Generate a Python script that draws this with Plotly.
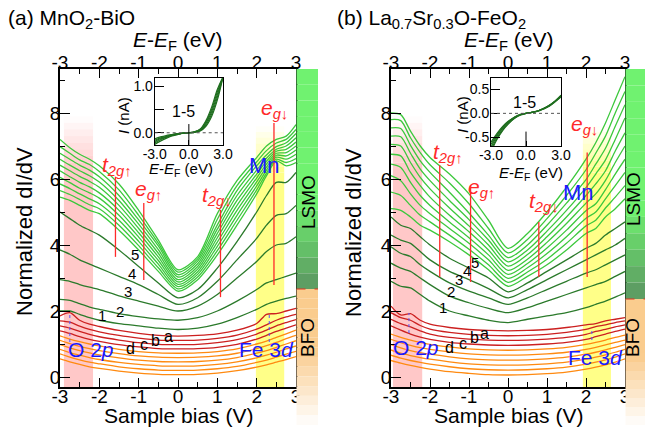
import plotly.graph_objects as go

W, H = 645, 427
FONT = "Liberation Sans, Arial, sans-serif"

# ---------------- data ----------------
BIAS = [-3, -2.75, -2.5, -2.25, -2, -1.5, -1, -0.5, 0, 0.5, 1, 1.5, 2, 2.25, 2.5, 2.75, 3]

# panel (a) MnO2-BiO
A_ORANGE = [
    [0.55, 0.46, 0.38, 0.31, 0.26, 0.18, 0.12, 0.08, 0.07, 0.08, 0.12, 0.19, 0.30, 0.37, 0.45, 0.53, 0.62],
    [0.70, 0.60, 0.52, 0.45, 0.40, 0.31, 0.25, 0.21, 0.20, 0.21, 0.25, 0.32, 0.44, 0.51, 0.60, 0.69, 0.78],
    [0.84, 0.74, 0.66, 0.59, 0.53, 0.44, 0.38, 0.34, 0.33, 0.34, 0.38, 0.46, 0.58, 0.66, 0.75, 0.85, 0.94],
    [0.98, 0.88, 0.80, 0.73, 0.67, 0.58, 0.51, 0.47, 0.46, 0.47, 0.51, 0.59, 0.72, 0.80, 0.90, 1.00, 1.10],
    [1.11, 1.01, 0.93, 0.86, 0.80, 0.71, 0.64, 0.60, 0.59, 0.60, 0.64, 0.72, 0.86, 0.95, 1.05, 1.16, 1.26],
    [1.25, 1.15, 1.07, 1.00, 0.94, 0.84, 0.77, 0.73, 0.72, 0.73, 0.77, 0.85, 1.00, 1.09, 1.20, 1.31, 1.42],
]
A_RED = [  # d, c, b, a
    [1.40, 1.32, 1.22, 1.14, 1.08, 0.98, 0.91, 0.86, 0.85, 0.86, 0.90, 0.99, 1.15, 1.26, 1.38, 1.48, 1.58],
    [1.55, 1.48, 1.38, 1.29, 1.22, 1.12, 1.04, 0.99, 0.98, 0.99, 1.04, 1.13, 1.30, 1.42, 1.55, 1.65, 1.74],
    [1.70, 1.66, 1.54, 1.44, 1.37, 1.26, 1.18, 1.12, 1.11, 1.12, 1.17, 1.27, 1.45, 1.58, 1.72, 1.82, 1.90],
    [1.85, 1.95, 1.72, 1.60, 1.53, 1.41, 1.32, 1.26, 1.24, 1.26, 1.31, 1.42, 1.62, 1.90, 1.92, 2.00, 2.08],
]
A_DARK = [  # 1..5
    [2.00, 2.00, 1.90, 1.80, 1.72, 1.62, 1.55, 1.48, 1.44, 1.48, 1.60, 1.80, 2.05, 2.20, 2.30, 2.38, 2.45],
    [2.35, 2.32, 2.22, 2.12, 2.05, 1.92, 1.83, 1.76, 1.72, 1.80, 2.00, 2.30, 2.65, 2.85, 2.95, 3.05, 3.15],
    [2.95, 2.90, 2.80, 2.72, 2.65, 2.46, 2.30, 2.15, 2.00, 2.15, 2.50, 3.00, 3.50, 3.80, 4.00, 4.05, 4.25],
    [3.85, 3.72, 3.55, 3.42, 3.30, 3.05, 2.80, 2.50, 2.20, 2.40, 2.90, 3.55, 4.20, 4.60, 4.90, 4.95, 5.20],
    [5.00, 4.80, 4.60, 4.45, 4.30, 3.85, 3.35, 2.85, 2.40, 2.65, 3.30, 4.10, 5.00, 5.50, 5.90, 5.90, 6.20],
]
A_LIGHT = [
    [5.45, 5.35, 5.20, 5.05, 4.95, 4.45, 3.85, 3.20, 2.60, 2.95, 3.70, 4.60, 5.55, 6.10, 6.55, 6.40, 6.50],
    [5.65, 5.53, 5.38, 5.22, 5.10, 4.60, 3.98, 3.31, 2.67, 3.03, 3.83, 4.75, 5.67, 6.18, 6.60, 6.50, 6.62],
    [5.85, 5.71, 5.55, 5.40, 5.25, 4.75, 4.11, 3.42, 2.74, 3.11, 3.96, 4.90, 5.79, 6.27, 6.66, 6.60, 6.75],
    [6.05, 5.89, 5.72, 5.58, 5.42, 4.90, 4.24, 3.53, 2.81, 3.19, 4.09, 5.05, 5.91, 6.36, 6.72, 6.70, 6.88],
    [6.25, 6.07, 5.90, 5.76, 5.58, 5.05, 4.37, 3.64, 2.88, 3.27, 4.22, 5.20, 6.03, 6.45, 6.78, 6.80, 7.00],
    [6.42, 6.25, 6.08, 5.93, 5.75, 5.20, 4.50, 3.75, 2.95, 3.35, 4.35, 5.35, 6.15, 6.54, 6.84, 6.90, 7.12],
    [6.60, 6.42, 6.25, 6.10, 5.91, 5.35, 4.63, 3.86, 3.03, 3.43, 4.48, 5.50, 6.27, 6.63, 6.90, 7.00, 7.25],
    [6.78, 6.60, 6.42, 6.27, 6.07, 5.50, 4.76, 3.97, 3.10, 3.51, 4.61, 5.65, 6.40, 6.73, 6.98, 7.10, 7.38],
    [6.98, 6.78, 6.58, 6.44, 6.23, 5.67, 4.90, 4.06, 3.18, 3.58, 4.78, 5.80, 6.52, 6.86, 7.09, 7.20, 7.50],
    [7.20, 6.95, 6.75, 6.60, 6.40, 5.85, 5.05, 4.15, 3.25, 3.65, 4.95, 5.95, 6.65, 7.00, 7.20, 7.30, 7.65],
]

# panel (b) La0.7Sr0.3O-FeO2
B_ORANGE = [
    [0.50, 0.42, 0.35, 0.29, 0.24, 0.16, 0.11, 0.07, 0.06, 0.07, 0.10, 0.15, 0.24, 0.30, 0.37, 0.45, 0.55],
    [0.66, 0.57, 0.50, 0.44, 0.39, 0.31, 0.25, 0.22, 0.21, 0.22, 0.25, 0.30, 0.39, 0.45, 0.52, 0.60, 0.70],
    [0.82, 0.72, 0.65, 0.59, 0.54, 0.46, 0.40, 0.37, 0.36, 0.37, 0.40, 0.45, 0.54, 0.60, 0.67, 0.75, 0.84],
    [0.98, 0.88, 0.80, 0.74, 0.69, 0.61, 0.55, 0.52, 0.51, 0.52, 0.55, 0.60, 0.69, 0.75, 0.82, 0.90, 0.98],
    [1.14, 1.04, 0.96, 0.89, 0.84, 0.76, 0.70, 0.67, 0.66, 0.67, 0.70, 0.75, 0.84, 0.90, 0.97, 1.05, 1.12],
    [1.30, 1.20, 1.12, 1.05, 0.99, 0.91, 0.85, 0.82, 0.81, 0.82, 0.85, 0.90, 0.99, 1.05, 1.12, 1.20, 1.27],
]
B_RED = [  # d, c, b, a
    [1.55, 1.42, 1.30, 1.21, 1.14, 1.05, 1.00, 0.97, 0.96, 0.97, 1.00, 1.05, 1.14, 1.22, 1.30, 1.38, 1.45],
    [1.75, 1.62, 1.52, 1.40, 1.30, 1.20, 1.15, 1.12, 1.11, 1.12, 1.15, 1.20, 1.29, 1.38, 1.44, 1.52, 1.58],
    [1.95, 1.80, 1.72, 1.56, 1.45, 1.35, 1.29, 1.26, 1.25, 1.26, 1.29, 1.35, 1.44, 1.53, 1.58, 1.65, 1.70],
    [2.15, 1.88, 1.92, 1.72, 1.60, 1.50, 1.44, 1.41, 1.40, 1.41, 1.44, 1.50, 1.58, 1.62, 1.70, 1.75, 1.80],
]
B_DARK = [  # 1..5
    [2.90, 2.75, 2.70, 2.50, 2.30, 2.00, 1.85, 1.72, 1.65, 1.75, 1.85, 1.95, 2.10, 2.20, 2.30, 2.42, 2.55],
    [3.45, 3.30, 3.20, 3.00, 2.80, 2.45, 2.25, 2.08, 1.95, 2.10, 2.30, 2.50, 2.70, 2.80, 2.90, 3.05, 3.20],
    [3.95, 3.75, 3.65, 3.40, 3.20, 2.85, 2.60, 2.40, 2.20, 2.40, 2.65, 2.90, 3.15, 3.25, 3.40, 3.55, 3.70],
    [4.30, 4.15, 4.05, 3.80, 3.55, 3.20, 2.95, 2.68, 2.40, 2.65, 2.95, 3.25, 3.55, 3.70, 3.85, 4.00, 4.20],
    [4.85, 4.60, 4.50, 4.25, 4.00, 3.60, 3.30, 3.00, 2.58, 2.85, 3.20, 3.55, 3.90, 4.05, 4.30, 4.50, 4.70],
]
B_LIGHT = [
    [5.10, 5.05, 4.85, 4.60, 4.45, 4.10, 3.70, 3.25, 2.75, 3.05, 3.40, 3.85, 4.35, 4.50, 4.85, 5.10, 5.40],
    [5.60, 5.50, 5.20, 4.90, 4.70, 4.30, 3.87, 3.40, 2.87, 3.18, 3.57, 4.05, 4.58, 4.75, 5.12, 5.45, 5.80],
    [6.10, 5.95, 5.55, 5.20, 4.95, 4.50, 4.05, 3.55, 2.99, 3.31, 3.74, 4.25, 4.81, 5.00, 5.40, 5.80, 6.20],
    [6.45, 6.35, 5.90, 5.50, 5.20, 4.70, 4.22, 3.70, 3.11, 3.44, 3.91, 4.45, 5.04, 5.25, 5.68, 6.15, 6.60],
    [6.75, 6.70, 6.20, 5.80, 5.45, 4.90, 4.40, 3.85, 3.23, 3.57, 4.08, 4.65, 5.27, 5.55, 5.96, 6.50, 7.00],
    [7.05, 7.00, 6.50, 6.05, 5.70, 5.12, 4.58, 4.00, 3.36, 3.71, 4.25, 4.85, 5.50, 5.85, 6.25, 6.85, 7.40],
    [7.30, 7.28, 6.78, 6.30, 5.95, 5.35, 4.77, 4.15, 3.49, 3.85, 4.42, 5.05, 5.74, 6.15, 6.58, 7.20, 7.85],
    [7.55, 7.53, 7.02, 6.55, 6.20, 5.60, 4.97, 4.30, 3.62, 4.00, 4.60, 5.27, 5.98, 6.45, 6.93, 7.60, 8.25],
    [7.80, 7.77, 7.25, 6.80, 6.43, 5.88, 5.25, 4.50, 3.76, 4.17, 4.80, 5.50, 6.28, 6.78, 7.30, 8.00, 8.65],
    [8.00, 7.95, 7.45, 7.00, 6.65, 6.15, 5.55, 4.75, 3.90, 4.35, 5.00, 5.75, 6.60, 7.10, 7.70, 8.40, 9.10],
]

# insets: I-V curves 1-5
IV_E = [-3, -2.5, -2, -1.5, -1, -0.5, 0, 0.5, 1, 1.5, 2, 2.5, 3]
A_IV = [
    [-0.25, -0.18, -0.12, -0.07, -0.04, -0.01, 0, 0.01, 0.04, 0.14, 0.35, 0.70, 1.20],
    [-0.22, -0.15, -0.10, -0.06, -0.03, -0.01, 0, 0.01, 0.05, 0.17, 0.40, 0.76, 1.20],
    [-0.19, -0.13, -0.09, -0.05, -0.03, -0.01, 0, 0.02, 0.06, 0.20, 0.45, 0.82, 1.20],
    [-0.16, -0.11, -0.08, -0.04, -0.02, -0.01, 0, 0.02, 0.07, 0.23, 0.50, 0.88, 1.20],
    [-0.13, -0.09, -0.06, -0.04, -0.02, -0.01, 0, 0.02, 0.08, 0.26, 0.55, 0.93, 1.20],
]
B_IV = [
    [-0.80, -0.55, -0.36, -0.22, -0.11, -0.04, 0, 0.02, 0.05, 0.10, 0.17, 0.26, 0.38],
    [-0.75, -0.52, -0.34, -0.20, -0.10, -0.03, 0, 0.02, 0.05, 0.10, 0.17, 0.26, 0.37],
    [-0.70, -0.48, -0.31, -0.18, -0.09, -0.03, 0, 0.02, 0.05, 0.10, 0.16, 0.25, 0.36],
    [-0.65, -0.45, -0.29, -0.17, -0.08, -0.03, 0, 0.02, 0.05, 0.09, 0.16, 0.25, 0.35],
    [-0.60, -0.42, -0.27, -0.16, -0.08, -0.02, 0, 0.02, 0.04, 0.09, 0.15, 0.24, 0.34],
]

# orbital marker lines: (x, y_bottom, y_top)
A_MARK = {"t2gu": (-1.59, 3.64, 6.07), "egu": (-0.87, 2.94, 5.27), "t2gd": (1.08, 2.42, 5.06), "egd": (2.44, 2.79, 7.70)}
B_MARK = {"t2gu": (-1.75, 3.03, 6.42), "egu": (-0.96, 2.88, 5.82), "t2gd": (0.79, 3.03, 4.70), "egd": (2.03, 3.03, 6.80)}
A_DOT = [(-2.75, 1.06, 1.94), (2.32, 1.06, 1.94)]
B_DOT = [(-2.54, 1.33, 1.94), (2.15, 1.12, 1.48)]

MAIN_TICKS = [-3, -2, -1, 0, 1, 2, 3]
Y_TICKS = [0, 2, 4, 6, 8]

# ---------------- styling ----------------
C_LIGHT = "#3cc83c"
C_DARK = "#2b7a2b"
C_RED = "#cc2020"
C_ORANGE = "#ff8a10"
C_MARK = "#ff2a2a"
C_BLUE = "#1a1aff"


def px(x):
    return x / W


def py(y):
    return 1 - y / H


fig = go.Figure()


def add_curves(xa, ya, groups):
    for curves, color in groups:
        for c in curves:
            fig.add_trace(go.Scatter(x=BIAS, y=c, mode="lines", xaxis=xa, yaxis=ya,
                                     line=dict(color=color, width=1.3, shape="spline", smoothing=0.8),
                                     hoverinfo="skip", showlegend=False))


add_curves("x", "y", [(A_ORANGE, C_ORANGE), (A_RED, C_RED), (A_DARK, C_DARK), (A_LIGHT, C_LIGHT)])
add_curves("x3", "y3", [(B_ORANGE, C_ORANGE), (B_RED, C_RED), (B_DARK, C_DARK), (B_LIGHT, C_LIGHT)])

# dummy traces so the top axes get drawn
for xa, ya in (("x2", "y"), ("x4", "y3")):
    fig.add_trace(go.Scatter(x=[-3, 3], y=[0, 0], xaxis=xa, yaxis=ya, mode="markers",
                             marker=dict(opacity=0), hoverinfo="skip", showlegend=False))

for iv, xa, ya in ((A_IV, "x5", "y5"), (B_IV, "x6", "y6")):
    for c in iv:
        fig.add_trace(go.Scatter(x=IV_E, y=c, mode="lines", xaxis=xa, yaxis=ya,
                                 line=dict(color="#1f6e1f", width=1.2, shape="spline"),
                                 hoverinfo="skip", showlegend=False))

# ---------------- axes ----------------
PA = (60, 296)
PB = (391, 625)
PY = (69, 387)
YR = [(377 - PY[1]) / 33.0, (377 - PY[0]) / 33.0]

axis_common = dict(range=[-3, 3], automargin=False, showgrid=False, zeroline=False, showline=True,
                   linecolor="black", linewidth=1.5, ticks="inside", ticklen=9, tickwidth=1.3, tickcolor="black",
                   tickvals=MAIN_TICKS, ticktext=[str(t) for t in MAIN_TICKS], ticklabelstandoff=-9,
                   tickfont=dict(family=FONT, size=19, color="black"),
                   minor=dict(dtick=0.5, ticks="inside", ticklen=5, tickwidth=1.2, tickcolor="black"))
yaxis_common = dict(range=YR, automargin=False, showgrid=False, zeroline=False, showline=True,
                    linecolor="black", linewidth=1.5, mirror=True, ticks="inside", ticklen=10, tickwidth=1.3,
                    tickcolor="black", tickvals=Y_TICKS, ticktext=[str(t) for t in Y_TICKS], ticklabelstandoff=-6,
                    tickfont=dict(family=FONT, size=19, color="black"),
                    minor=dict(dtick=1, ticks="inside", ticklen=5, tickwidth=1.2, tickcolor="black"))

lay = dict(
    template="none",
    width=W, height=H, margin=dict(l=0, r=0, t=0, b=0, pad=0, autoexpand=False),
    paper_bgcolor="white", plot_bgcolor="white", showlegend=False,
    xaxis=dict(domain=[px(PA[0]), px(PA[1])], anchor="y", **axis_common),
    xaxis2=dict(domain=[px(PA[0]), px(PA[1])], anchor="y", overlaying="x", side="top", **axis_common),
    yaxis=dict(domain=[py(PY[1]), py(PY[0])], anchor="x", **yaxis_common),
    xaxis3=dict(domain=[px(PB[0]), px(PB[1])], anchor="y3", **axis_common),
    xaxis4=dict(domain=[px(PB[0]), px(PB[1])], anchor="y3", overlaying="x3", side="top", **axis_common),
    yaxis3=dict(domain=[py(PY[1]), py(PY[0])], anchor="x3", **yaxis_common),
)

inset_x = dict(range=[-3, 3], automargin=False, showgrid=False, zeroline=False, showline=True, mirror=True,
               linecolor="black", linewidth=1, ticks="inside", ticklen=5, tickcolor="black", tickvals=[-3, 0, 3],
               ticktext=["-3.0", "0.0", "3.0"], ticklabelstandoff=-4,
               tickfont=dict(family=FONT, size=14, color="black"))
inset_y = dict(automargin=False, showgrid=False, zeroline=False, showline=True, mirror=True, linecolor="black",
               linewidth=1, ticks="inside", ticklen=9, tickcolor="black", ticklabelstandoff=-2,
               tickfont=dict(family=FONT, size=14, color="black"))
lay["xaxis5"] = dict(domain=[px(154.7), px(223)], anchor="y5", **inset_x)
lay["yaxis5"] = dict(domain=[py(145), py(78.3)], anchor="x5", range=[-0.263, 1.17],
                     tickvals=[0, 0.5, 1.0], ticktext=["0.0", "", "1.0"], **inset_y)
lay["xaxis6"] = dict(domain=[px(491), px(561)], anchor="y6", **inset_x)
lay["yaxis6"] = dict(domain=[py(146), py(78.3)], anchor="x6", range=[-0.68, 0.73],
                     tickvals=[-0.5, 0, 0.5], ticktext=["-0.5", "0.0", "0.5"], **inset_y)
fig.update_layout(**lay)

# ---------------- shapes ----------------
shapes = []


def band(xref, yref, x0, x1, color, y_solid, y_top, nfade=8):
    shapes.append(dict(type="rect", xref=xref, yref=yref, x0=x0, x1=x1, y0=YR[0], y1=y_solid,
                       fillcolor=color, line=dict(width=0), layer="below"))
    step = (y_top - y_solid) / nfade
    for i in range(nfade):
        shapes.append(dict(type="rect", xref=xref, yref=yref, x0=x0, x1=x1,
                           y0=y_solid + i * step, y1=y_solid + (i + 1) * step,
                           fillcolor=color, opacity=1 - (i + 0.5) / nfade, line=dict(width=0), layer="below"))


band("x", "y", -2.9, -2.16, "#ffc8c8", 6.3, 7.9)
band("x", "y", 1.98, 2.70, "#ffff88", 6.2, 7.6)
band("x3", "y3", -2.95, -2.2, "#ffc8c8", 6.3, 7.9)
band("x3", "y3", 1.92, 2.64, "#ffff88", 6.2, 7.6)


def strip(x0px, x1px, ytr):
    # green (LSMO) part with gradient darkening toward the interface
    top, n = PY[0], 14
    c0, c1 = (112, 242, 112), (92, 150, 98)
    for i in range(n):
        ya = top + (ytr - top) * i / n
        yb = top + (ytr - top) * (i + 1) / n
        t = max(0.0, (i + 0.5) / n - 0.6) / 0.4
        col = tuple(int(c0[k] + (c1[k] - c0[k]) * t) for k in range(3))
        shapes.append(dict(type="rect", xref="paper", yref="paper", x0=px(x0px), x1=px(x1px),
                           y0=py(yb), y1=py(ya), fillcolor="rgb(%d,%d,%d)" % col, line=dict(width=0)))
    # orange (BFO) part fading to white
    n2 = 14
    c2 = (250, 204, 142)
    bottom = 425
    for i in range(n2):
        ya = ytr + (bottom - ytr) * i / n2
        yb = ytr + (bottom - ytr) * (i + 1) / n2
        t = max(0.0, (i + 0.5) / n2 - 0.45) / 0.55
        col = tuple(int(c2[k] + (255 - c2[k]) * t) for k in range(3))
        shapes.append(dict(type="rect", xref="paper", yref="paper", x0=px(x0px), x1=px(x1px),
                           y0=py(yb), y1=py(ya), fillcolor="rgb(%d,%d,%d)" % col, line=dict(width=0)))
    shapes.append(dict(type="line", xref="paper", yref="paper", x0=px(x0px), x1=px(x1px),
                       y0=py(ytr), y1=py(ytr), line=dict(color="#e03020", width=1.2, dash="dash")))


strip(296.5, 318, 289)
strip(625.5, 645, 299)

for marks, xr, yr in ((A_MARK, "x", "y"), (B_MARK, "x3", "y3")):
    for k, (xm, y0, y1) in marks.items():
        shapes.append(dict(type="line", xref=xr, yref=yr, x0=xm, x1=xm, y0=y0, y1=y1,
                           line=dict(color=C_MARK, width=1.3)))
for dots, xr, yr in ((A_DOT, "x", "y"), (B_DOT, "x3", "y3")):
    for xm, y0, y1 in dots:
        shapes.append(dict(type="line", xref=xr, yref=yr, x0=xm, x1=xm, y0=y0, y1=y1,
                           line=dict(color="#5555ff", width=1, dash="dot")))

# inset zero lines
for xr, yr, yb, ln in (("x5", "y5", -0.263, 0.45), ("x6", "y6", -0.68, 0.3)):
    shapes.append(dict(type="line", xref=xr, yref=yr, x0=-3, x1=3, y0=0, y1=0,
                       line=dict(color="#555555", width=1, dash="dot")))
    shapes.append(dict(type="line", xref=xr, yref=yr, x0=0, x1=0, y0=yb, y1=yb + ln,
                       line=dict(color="black", width=1)))
fig.update_layout(shapes=shapes)

# ---------------- text ----------------
ann = []


def t(x, y, text, size, color="black", xref="paper", yref="paper", angle=0, xanchor="center"):
    ann.append(dict(x=x, y=y, xref=xref, yref=yref, text=text, showarrow=False, textangle=angle,
                    xanchor=xanchor, yanchor="middle", font=dict(family=FONT, size=size, color=color)))


t(px(6), py(19), "(a) MnO<sub>2</sub>-BiO", 21, xanchor="left")
t(px(335), py(19), "(b) La<sub>0.7</sub>Sr<sub>0.3</sub>O-FeO<sub>2</sub>", 21, xanchor="left")
for cx in (178, 509):
    t(px(cx), py(41), "<i>E</i>-<i>E</i><sub>F</sub> (eV)", 21)
for cx in (178, 508):
    t(px(cx), py(415), "Sample bias (V)", 21)
t(px(24), py(232), "Normalized dI/dV", 22, angle=-90)
t(px(353), py(232), "Normalized dI/dV", 22, angle=-90)
t(px(308), py(202), "LSMO", 19, angle=-90)
t(px(307), py(338), "BFO", 19, angle=-90)
t(px(633), py(199), "LSMO", 19, angle=-90)
t(px(632), py(338), "BFO", 19, angle=-90)

# inset titles
t(px(181), py(169), "<i>E</i>-<i>E</i><sub>F</sub> (eV)", 15)
t(px(531), py(173), "<i>E</i>-<i>E</i><sub>F</sub> (eV)", 15)
t(px(123), py(116), "<i>I</i> (nA)", 15, angle=-90)
t(px(462), py(115), "<i>I</i> (nA)", 15, angle=-90)
t(-0.5, 0.45, "1-5", 16, xref="x5", yref="y5")
t(-0.1, 0.22, "1-5", 16, xref="x6", yref="y6")

LBL_T2GU = "<i>t</i><sub><i>2g</i>↑</sub>"
LBL_EGU = "<i>e</i><sub><i>g</i>↑</sub>"
LBL_T2GD = "<i>t</i><sub><i>2g</i>↓</sub>"
LBL_EGD = "<i>e</i><sub><i>g</i>↓</sub>"

# panel a labels
t(-1.55, 6.40, LBL_T2GU, 21, C_MARK, "x", "y")
t(-0.74, 5.68, LBL_EGU, 21, C_MARK, "x", "y")
t(1.00, 5.48, LBL_T2GD, 21, C_MARK, "x", "y")
t(2.46, 8.12, LBL_EGD, 21, C_MARK, "x", "y")
t(2.20, 6.42, "Mn", 22, C_BLUE, "x", "y")
t(-2.22, 0.82, "O 2<i>p</i>", 21, C_BLUE, "x", "y")
t(2.26, 0.82, "Fe 3<i>d</i>", 21, C_BLUE, "x", "y")
for lab, (lx, ly) in zip(["1", "2", "3", "4", "5"],
                         [(-1.93, 1.85), (-1.47, 2.0), (-1.27, 2.58), (-1.17, 3.15), (-1.09, 3.70)]):
    t(lx, ly, lab, 15, "black", "x", "y")
for lab, (lx, ly) in zip(["d", "c", "b", "a"], [(-1.22, 0.85), (-0.87, 0.97), (-0.58, 1.12), (-0.23, 1.24)]):
    t(lx, ly, lab, 16, "black", "x", "y")

# panel b labels
t(-1.53, 6.80, LBL_T2GU, 21, C_MARK, "x3", "y3")
t(-0.68, 5.73, LBL_EGU, 21, C_MARK, "x3", "y3")
t(0.92, 5.30, LBL_T2GD, 21, C_MARK, "x3", "y3")
t(1.96, 7.64, LBL_EGD, 21, C_MARK, "x3", "y3")
t(1.80, 5.58, "Mn", 22, C_BLUE, "x3", "y3")
t(-2.36, 0.90, "O 2<i>p</i>", 21, C_BLUE, "x3", "y3")
t(2.25, 0.60, "Fe 3<i>d</i>", 21, C_BLUE, "x3", "y3")
for lab, (lx, ly) in zip(["1", "2", "3", "4", "5"],
                         [(-1.67, 2.12), (-1.46, 2.58), (-1.26, 2.94), (-1.05, 3.24), (-0.85, 3.48)]):
    t(lx, ly, lab, 15, "black", "x3", "y3")
for lab, (lx, ly) in zip(["d", "c", "b", "a"], [(-1.50, 0.88), (-1.15, 1.03), (-0.87, 1.21), (-0.59, 1.33)]):
    t(lx, ly, lab, 16, "black", "x3", "y3")

fig.update_layout(annotations=ann)
fig.write_html("out.html", config={"displayModeBar": False},
               post_script="document.body.style.margin='0';document.body.style.padding='0';")
